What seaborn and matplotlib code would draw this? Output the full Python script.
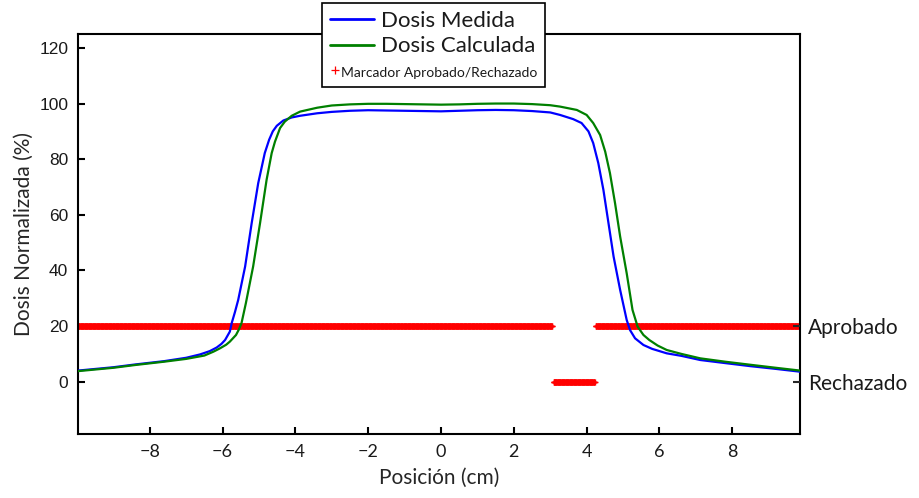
import numpy as np
import pandas as pd
import matplotlib
matplotlib.use("Agg")
import matplotlib.pyplot as plt
from matplotlib.lines import Line2D
from matplotlib.legend_handler import HandlerLine2D
import seaborn as sns

# Perfil de dosis medido (posición en cm, dosis normalizada en %)
x_medida = [-9.97, -9.0, -8.4, -7.6, -7.0, -6.62, -6.35, -6.16, -6.03, -5.93, -5.8,
            -5.75, -5.66, -5.57, -5.38, -5.2, -5.02, -4.84, -4.72, -4.62, -4.51, -4.33,
            -4.1, -3.87, -3.4, -3.0, -2.5, -2.0, -1.5, -1.0, -0.5, 0.0, 0.5, 1.0,
            1.5, 2.0, 2.5, 3.0, 3.27, 3.63, 3.86, 4.05, 4.18, 4.32, 4.46, 4.6,
            4.74, 4.92, 5.1, 5.19, 5.33, 5.56, 5.8, 6.2, 6.6, 7.12, 7.8, 8.49,
            9.2, 9.86]
y_medida = [4.0, 5.2, 6.2, 7.4, 8.6, 9.8, 11.0, 12.3, 13.6, 15.0, 18.0,
            21.0, 25.0, 29.4, 41.4, 57.0, 71.4, 82.2, 87.0, 90.0, 92.0, 93.9,
            95.0, 95.6, 96.5, 97.0, 97.4, 97.6, 97.5, 97.4, 97.3, 97.2, 97.4, 97.6,
            97.7, 97.6, 97.3, 96.8, 95.9, 94.4, 93.0, 90.0, 85.8, 78.6, 69.0, 57.0,
            45.0, 33.0, 22.2, 18.6, 15.6, 13.2, 11.8, 10.2, 9.3, 7.8, 6.7, 5.6,
            4.6, 3.6]

# Perfil de dosis calculado por el planificador
x_calculada = [-9.97, -9.0, -8.4, -7.6, -7.0, -6.5, -6.25, -6.07, -5.9, -5.8, -5.63,
               -5.55, -5.48, -5.36, -5.16, -4.97, -4.79, -4.65, -4.56, -4.42, -4.29, -4.1,
               -3.87, -3.4, -3.0, -2.5, -2.0, -1.5, -1.0, -0.5, 0.0, 0.5, 1.0, 1.5,
               2.0, 2.5, 3.0, 3.27, 3.73, 4.0, 4.18, 4.37, 4.51, 4.64, 4.78, 4.92,
               5.1, 5.26, 5.4, 5.56, 5.72, 5.95, 6.2, 6.6, 7.12, 7.8, 8.49, 9.2,
               9.86]
y_calculada = [3.8, 5.0, 6.0, 7.2, 8.2, 9.4, 10.8, 12.0, 13.3, 14.4, 16.8,
               18.8, 21.0, 28.2, 41.4, 57.0, 72.6, 82.2, 86.3, 91.2, 93.5, 95.6,
               97.1, 98.5, 99.3, 99.7, 99.9, 99.9, 99.8, 99.7, 99.6, 99.7, 99.9, 100.0,
               100.0, 99.8, 99.4, 98.9, 97.7, 95.9, 93.0, 88.7, 82.7, 75.0, 64.2, 52.2,
               39.0, 25.8, 19.8, 16.8, 15.0, 13.0, 11.4, 10.0, 8.4, 7.2, 6.1, 5.0,
               4.0]

# Tramos evaluados: aprobados (nivel 20) y rechazados (nivel 0)
tramos_aprobados = [(-9.97, 3.05), (4.25, 9.86)]
tramos_rechazados = [(3.09, 4.22)]
nivel_aprobado = 20
nivel_rechazado = 0
paso_rejilla = 0.01

x_ticks = [-8, -6, -4, -2, 0, 2, 4, 6, 8]
y_ticks = [0, 20, 40, 60, 80, 100, 120]
etiquetas_derecha = ["Rechazado", "Aprobado"]

sns.set_style("white")
plt.rcParams["font.family"] = ["Lato", "DejaVu Sans"]

fig = plt.figure(figsize=(9.2, 4.98), dpi=100)
ax = fig.add_axes([78 / 920, 64 / 498, 722 / 920, 400 / 498])

df_med = pd.DataFrame({"x": x_medida, "y": y_medida})
df_cal = pd.DataFrame({"x": x_calculada, "y": y_calculada})

# Marcadores de aprobado/rechazado sobre la rejilla de medida
def puntos(tramos, nivel):
    xs = np.concatenate([np.arange(a, b + 1e-9, paso_rejilla) for a, b in tramos])
    return xs, np.full_like(xs, nivel)

xa, ya = puntos(tramos_aprobados, nivel_aprobado)
xr, yr = puntos(tramos_rechazados, nivel_rechazado)
marker_kw = dict(color="#ff0000", linestyle="none", marker="+", markersize=5,
                 markeredgewidth=1.0, zorder=2)
ax.plot(xa, ya, **marker_kw)
ax.plot(xr, yr, **marker_kw)

sns.lineplot(data=df_med, x="x", y="y", ax=ax, color="#0000ff", linewidth=1.6,
             sort=False, estimator=None, zorder=3)
sns.lineplot(data=df_cal, x="x", y="y", ax=ax, color="#008000", linewidth=1.6,
             sort=False, estimator=None, zorder=3)

ax.set_xlim(-9.97, 9.86)
ax.set_ylim(-18.8, 125)
ax.set_xticks(x_ticks)
ax.set_xticklabels([f"\u2212{abs(v)}" if v < 0 else str(v) for v in x_ticks],
                   fontsize=13)
ax.set_yticks(y_ticks)
ax.set_yticklabels([str(v) for v in y_ticks], fontsize=12.5,
                   family=["Liberation Sans", "DejaVu Sans"])
ax.set_xlabel("Posición (cm)", fontsize=15, labelpad=6)
ax.set_ylabel("Dosis Normalizada (%)", fontsize=15, labelpad=4)
ax.tick_params(axis="both", direction="in", length=5, width=1.5, color="black",
               labelcolor="#1a1a1a", top=False, right=False, left=True, bottom=True)
ax.tick_params(axis="x", pad=7)
ax.tick_params(axis="y", pad=7)
for s in ax.spines.values():
    s.set_color("black")
    s.set_linewidth(1.5)

ax2 = ax.twinx()
ax2.set_ylim(ax.get_ylim())
ax2.set_yticks([nivel_rechazado, nivel_aprobado])
ax2.set_yticklabels(etiquetas_derecha, fontsize=15)
ax2.tick_params(axis="y", direction="in", length=5, width=1.5, pad=6,
                labelcolor="#1a1a1a")
for s in ax2.spines.values():
    s.set_visible(False)


class _MarcaIzquierda(HandlerLine2D):
    def create_artists(self, legend, orig_handle, xdescent, ydescent, width,
                       height, fontsize, trans):
        arts = super().create_artists(legend, orig_handle, xdescent, ydescent,
                                      width, height, fontsize, trans)
        for a in arts:
            if a.get_marker() not in (None, "None", "", " "):
                a.set_xdata([-xdescent + 0.12 * width])
        return arts


h_med = Line2D([], [], color="#0000ff", linewidth=2)
h_cal = Line2D([], [], color="#008000", linewidth=2)
h_mar = Line2D([], [], color="#ff0000", linestyle="none", marker="+",
               markersize=6, markeredgewidth=0.9)
leg = fig.legend([h_med, h_cal, h_mar],
                 ["Dosis Medida", "Dosis Calculada", "Marcador Aprobado/Rechazado"],
                 loc="upper left", bbox_to_anchor=(322 / 920, 1 - 3 / 498),
                 fontsize=16, handlelength=2.0, handletextpad=0.3,
                 labelspacing=0.25, borderpad=0.35, borderaxespad=0,
                 fancybox=False, framealpha=1, edgecolor="black",
                 handler_map={h_mar: _MarcaIzquierda()})
leg.get_frame().set_linewidth(1.2)
textos = leg.get_texts()
textos[2].set_fontsize(10)
for t in textos:
    t.set_color("#1a1a1a")
# La tercera fila lleva el texto pegado a la marca
filas = leg._legend_handle_box.get_children()[0].get_children()
filas[2].sep = -24

fig.savefig("out.png", dpi=100)
